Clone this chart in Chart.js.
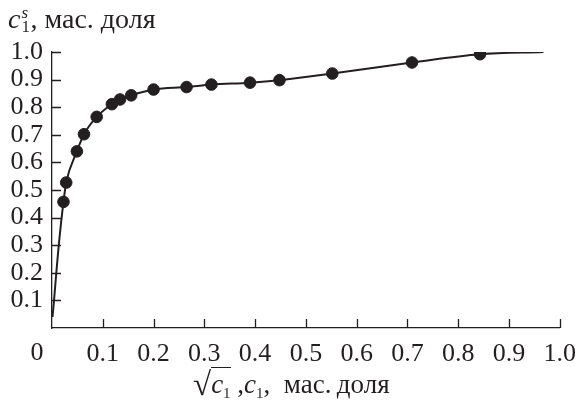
<!DOCTYPE html>
<html>
<head>
<meta charset="utf-8">
<script src="https://cdn.jsdelivr.net/npm/chart.js@4"></script>
<style>
  html, body { margin: 0; padding: 0; background: #fff; }
  #wrap { position: relative; width: 587px; height: 402px; }
  .lbl { position: absolute; font-family: 'Liberation Serif', 'Times New Roman', serif; color: #231f20; white-space: nowrap; line-height: 1; }
  .ss { display: inline-block; position: relative; width: 10px; height: 20px; }
  .ss .sup { position: absolute; left: 1px; top: -4px; font-size: 17px; font-style: italic; }
  .ss .sub { position: absolute; left: 1px; top: 10px; font-size: 17px; }
  .sub2 { font-size: 15px; position: relative; top: 5px; }
  .ov { border-top: 1.6px solid #231f20; padding-top: 1px; }
</style>
</head>
<body>
<div id="wrap">
  <canvas id="chart" width="587" height="402"></canvas>
  <div class="lbl" style="left:8px; top:5px; font-size:28px;"><i>c</i><span class="ss"><span class="sup">s</span><span class="sub">1</span></span>, мас. доля</div>
  <div class="lbl" style="left:193px; top:366px; font-size:27px;"><span style="font-size:33px; position:relative; top:2px;">√</span><span class="ov"><i>c</i><span class="sub2">1</span></span> ,<i>c</i><span class="sub2">1</span>,&nbsp; мас.&#8201;доля</div>
</div>
<script>
// data
const expX = [0.0226, 0.028, 0.049, 0.063, 0.088, 0.118, 0.134, 0.156, 0.200, 0.265, 0.314, 0.390, 0.448, 0.552, 0.709, 0.843];
const expY = [0.457, 0.527, 0.640, 0.702, 0.765, 0.811, 0.828, 0.843, 0.864, 0.873, 0.882, 0.889, 0.898, 0.922, 0.962, 0.992];
// fitted curve traced through the picture
const curveX = [0.001, 0.004, 0.008, 0.013, 0.0226, 0.028, 0.049, 0.063, 0.088, 0.118, 0.134, 0.156, 0.200, 0.265, 0.314, 0.390, 0.448, 0.552, 0.709, 0.843, 0.968];
const curveY = [0.040, 0.100, 0.190, 0.294, 0.457, 0.527, 0.640, 0.702, 0.765, 0.811, 0.828, 0.843, 0.864, 0.873, 0.882, 0.889, 0.898, 0.922, 0.962, 0.992, 1.000];
const tickValues = [0.1, 0.2, 0.3, 0.4, 0.5, 0.6, 0.7, 0.8, 0.9, 1.0];

const ink = '#231f20';
const serif = "'Liberation Serif', 'Times New Roman', serif";
const tickFont = { family: serif, size: 26 };

// axes ticks point inward, and the shared "0" sits left of the origin
const inwardTicks = {
    id: 'inwardTicks',
    afterDraw(chart) {
        const ctx = chart.ctx, xs = chart.scales.x, ys = chart.scales.y;
        const x0 = xs.getPixelForValue(0), y0 = ys.getPixelForValue(0);
        ctx.save();
        ctx.strokeStyle = ink;
        ctx.lineWidth = 1.3;
        ctx.beginPath();
        tickValues.forEach(v => {
            const px = Math.round(xs.getPixelForValue(v)) + 0.5;
            ctx.moveTo(px, y0); ctx.lineTo(px, y0 - 9);
            const py = Math.round(ys.getPixelForValue(v)) + 0.5;
            ctx.moveTo(x0, py); ctx.lineTo(x0 + 9, py);
        });
        ctx.stroke();
        ctx.fillStyle = ink;
        ctx.font = '26px ' + serif;
        ctx.textAlign = 'center';
        ctx.textBaseline = 'top';
        ctx.fillText('0', x0 - 15, y0 + 12);
        ctx.restore();
    }
};

new Chart(document.getElementById('chart'), {
    type: 'scatter',
    data: {
        datasets: [
            {
                data: expX.map((x, i) => ({ x: x, y: expY[i] })),
                backgroundColor: ink, borderColor: ink,
                pointRadius: 5.8, pointHoverRadius: 5.8, showLine: false
            },
            {
                data: curveX.map((x, i) => ({ x: x, y: curveY[i] })),
                borderColor: ink, borderWidth: 2, pointRadius: 0,
                showLine: true, cubicInterpolationMode: 'monotone', fill: false
            }
        ]
    },
    options: {
        responsive: false, animation: false,
        layout: { padding: { top: 52, right: 17, left: 0, bottom: 0 } },
        scales: {
            x: {
                type: 'linear', min: 0, max: 1,
                afterFit: s => { s.height = 74; },
                afterBuildTicks: s => { s.ticks = [0].concat(tickValues).map(v => ({ value: v })); },
                ticks: { font: tickFont, color: ink, padding: 11, maxRotation: 0, autoSkip: false,
                         callback: v => v === 0 ? '' : v.toFixed(1) },
                grid: { display: true, drawOnChartArea: false, drawTicks: false },
                border: { display: true, color: ink, width: 1.3 }
            },
            y: {
                type: 'linear', min: 0, max: 1,
                afterFit: s => { s.width = 52; },
                afterBuildTicks: s => { s.ticks = [0].concat(tickValues).map(v => ({ value: v })); },
                ticks: { font: tickFont, color: ink, padding: 9, autoSkip: false,
                         callback: v => v === 0 ? '' : v.toFixed(1) },
                grid: { display: true, drawOnChartArea: false, drawTicks: false },
                border: { display: true, color: ink, width: 1.3 }
            }
        },
        plugins: { legend: { display: false }, tooltip: { enabled: false } }
    },
    plugins: [inwardTicks]
});
</script>
</body>
</html>
